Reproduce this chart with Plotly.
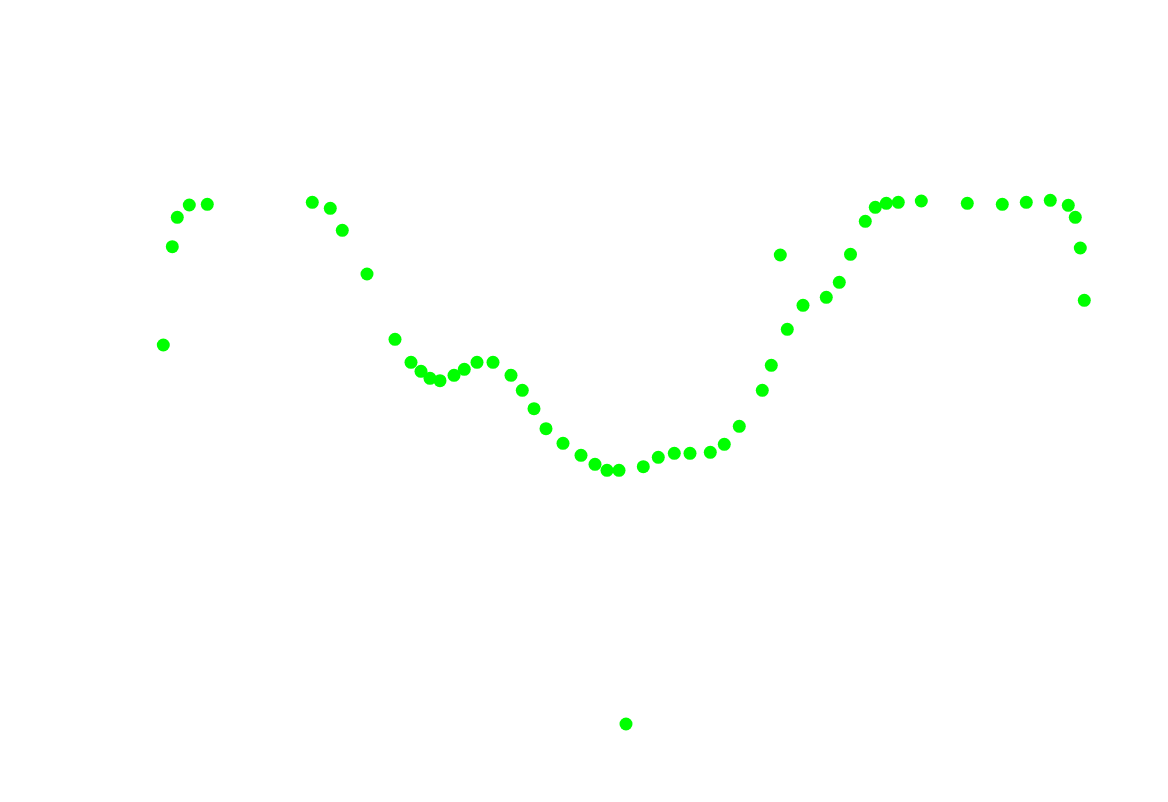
import plotly.graph_objects as go

x_vals = [163.3, 172.3, 177.3, 189.3, 207.3, 312.3, 330.3, 342.3, 367, 395,
          411, 421, 430, 440, 454, 464.3, 477, 493, 511, 522.3,
          534, 546, 563, 581, 595, 607, 619, 626, 643.3, 658.3,
          674.3, 690, 710.3, 724.3, 739.3, 762.3, 771.3, 780.3, 787.3, 803,
          826.3, 839.3, 850.5, 865.3, 875.3, 886.3, 898.3, 921.3, 967.3, 1002.3,
          1026.3, 1050.3, 1068.3, 1075.3, 1080.3, 1084.3]
y_vals = [457, 555.3, 584.7, 597, 597.7, 599.7, 593.7, 571.7, 528, 462.7,
          439.7, 430.7, 423.7, 421.3, 426.7, 432.7, 439.7, 439.7, 426.7, 411.7,
          393.3, 373.3, 358.7, 346.7, 337.7, 331.7, 331.7, 78, 335.3, 344.7,
          348.7, 348.7, 349.7, 357.7, 375.7, 411.7, 436.7, 547, 472.7, 496.7,
          504.7, 519.7, 547.7, 580.7, 594.7, 598.7, 599.7, 601, 598.7, 597.7,
          599.7, 601.7, 596.7, 584.7, 554, 501.7]

fig = go.Figure(go.Scatter(
    x=x_vals, y=y_vals, mode="markers",
    marker=dict(color="#00ff00", size=13, line=dict(width=0)),
))
fig.update_layout(
    width=1168, height=802,
    margin=dict(l=0, r=0, t=0, b=0),
    paper_bgcolor="white", plot_bgcolor="white",
    showlegend=False,
    xaxis=dict(range=[0, 1168], visible=False, fixedrange=True),
    yaxis=dict(range=[0, 802], visible=False, fixedrange=True),
)
fig.write_html("out.html", config={"displayModeBar": False})
